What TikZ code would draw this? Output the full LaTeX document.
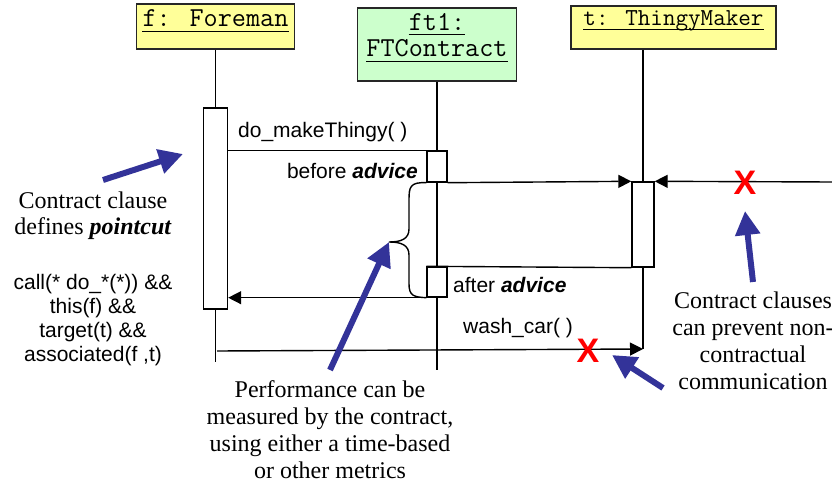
\documentclass[tikz,border=0pt]{standalone}
\usepackage{fontspec}
\setmainfont{Liberation Serif}
\setsansfont{Liberation Sans}
\usetikzlibrary{arrows.meta,calc}
\definecolor{calloutblue}{HTML}{333399}
\definecolor{boxyellow}{HTML}{FFFF99}
\definecolor{boxgreen}{HTML}{CCFFCC}
\tikzset{
  objbox/.style={draw=black!85, line width=1.6pt, inner sep=0pt},
  actbar/.style={draw, line width=1.4pt, fill=white, inner sep=0pt},
  life/.style={line width=1.4pt},
  msg/.style={line width=1.4pt, -{Triangle[length=13pt,width=13pt]}},
  plainline/.style={line width=1.4pt},
  note/.style={font=\fontsize{24}{27}\selectfont, inner sep=0pt, anchor=base},
  codetext/.style={font=\sffamily\fontsize{21}{24}\selectfont, inner sep=0pt},
  monolabel/.style={font=\ttfamily\fontsize{27.4}{30}\selectfont, inner sep=0pt, anchor=base},
  callout/.style={draw=calloutblue, line width=6pt, -{Triangle[length=24pt,width=24pt]}},
  crossmark/.style={text=red, font=\sffamily\bfseries\fontsize{34}{34}\selectfont, inner sep=0pt},
}
\begin{document}
\begin{tikzpicture}[x=1pt,y=-1pt]
\useasboundingbox (0,0) rectangle (832,486);

% object boxes
\node[objbox, fill=boxyellow, minimum width=158pt, minimum height=45pt] (fbox) at (215.5,26.5) {};
\node[objbox, fill=boxgreen, minimum width=159pt, minimum height=73pt] (ftbox) at (437,44.5) {};
\node[objbox, fill=boxyellow, minimum width=205pt, minimum height=43pt] (tbox) at (673.5,27.5) {};

\node[monolabel] (flab) at (215.5,27) {f: Foreman};
\node[monolabel] (ftlabA) at (437,31) {ft1:};
\node[monolabel] (ftlabB) at (437,57) {FTContract};
\node[monolabel, font=\ttfamily\fontsize{24.4}{27}\selectfont] (tlab) at (673.5,26) {t: ThingyMaker};
\draw[line width=1pt] ([yshift=-5pt]flab.base west) -- ([yshift=-5pt]flab.base east);
\draw[line width=1pt] ([yshift=-4pt]ftlabA.base west) -- ([yshift=-4pt]ftlabA.base east);
\draw[line width=1pt] ([yshift=-5pt]ftlabB.base west) -- ([yshift=-5pt]ftlabB.base east);
\draw[line width=1pt] ([yshift=-4pt]tlab.base west) -- ([yshift=-4pt]tlab.base east);

% activation bars
\node[actbar, minimum width=24pt, minimum height=201pt] (fbar) at (215.5,208.5) {};
\node[actbar, minimum width=20pt, minimum height=31pt] (fb) at (437,166.5) {};
\node[actbar, minimum width=20pt, minimum height=30pt] (fa) at (437,282) {};
\node[actbar, minimum width=22pt, minimum height=85pt] (tbar) at (643,224.5) {};

% lifeline ends
\coordinate (fend) at (215.5,362);
\coordinate (ftend) at (437,370);
\coordinate (tend) at (643,349);
\coordinate (wstart) at (217,351);
\coordinate (rin) at (832,182);

% lifelines
\draw[life] (fbox.south) -- (fbar.north);
\draw[life] (fbar.south) -- (fend);
\draw[life] (ftbox.south) -- (fb.north);
\draw[life] (fb.south) -- (fa.north);
\draw[life] (fa.south) -- (ftend);
\draw[life] (tbar.north |- tbox.south) -- (tbar.north);
\draw[life] (tbar.south) -- (tend);

% messages
\draw[plainline] (fbar.east |- fb.north) -- (fb.north west);
\draw[msg] (fb.south east) -- (tbar.north west);
\draw[msg] (rin) -- (tbar.north east);
\draw[plainline] (tbar.south west) -- (fa.north west);
\draw[msg] (fa.south west) -- (fbar.east |- fa.south);
\draw[msg] (wstart) -- (tend);

% brace
\coordinate (bracetip) at (389,242);
\draw[plainline] (fb.south west) .. controls (410,182) and (409,187) .. (409,200)
  -- (409,229) .. controls (409,239) and (401,242) .. (bracetip)
  .. controls (401,242) and (409,245) .. (409,255)
  -- (409,284) .. controls (409,296) and (414,297) .. (fa.south west);

% message labels
\node[codetext, anchor=base west] (lmake) at (238,138) {do\_makeThingy( )};
\node[codetext, anchor=base east] (lbefore) at (418,179) {before \textbf{\textit{advice}}};
\node[codetext, anchor=base west] (lafter) at (453,292) {after \textbf{\textit{advice}}};
\node[codetext, anchor=base west] (lwash) at (463,333) {wash\_car( )};

% crosses
\node[crossmark] (xone) at (745,183) {X};
\node[crossmark] (xtwo) at (588,351) {X};

% left notes
\node[note] (nA1) at (93,209) {Contract clause};
\node[note] (nA2) at (93,235) {defines \textbf{\textit{pointcut}}};
\node[codetext, anchor=base] (c1) at (93,289) {call(* do\_*(*)) \&\&};
\node[codetext, anchor=base] (c2) at (93,313) {this(f) \&\&};
\node[codetext, anchor=base] (c3) at (93,337) {target(t) \&\&};
\node[codetext, anchor=base] (c4) at (93,361) {associated(f ,t)};

% bottom note
\node[note] (nB1) at (330,397) {Performance can be};
\node[note] (nB2) at (330,424) {measured by the contract,};
\node[note] (nB3) at (330,451) {using either a time-based};
\node[note] (nB4) at (330,478) {or other metrics};

% right note
\node[note] (nC1) at (753,308) {Contract clauses};
\node[note] (nC2) at (753,335) {can prevent non-};
\node[note] (nC3) at (753,362) {contractual};
\node[note] (nC4) at (753,389) {communication};

% callout arrows
\coordinate (a1s) at (103,180);
\coordinate (a1e) at (183,154);
\coordinate (a2s) at (330,370);
\coordinate (a3s) at (753,282);
\coordinate (a3e) at (745,211);
\coordinate (a4s) at (663,388);
\coordinate (a4e) at (612,355);
\draw[callout] (a1s) -- (a1e);
\draw[callout] (a2s) -- (bracetip);
\draw[callout] (a3s) -- (a3e);
\draw[callout] (a4s) -- (a4e);
\end{tikzpicture}
\end{document}
